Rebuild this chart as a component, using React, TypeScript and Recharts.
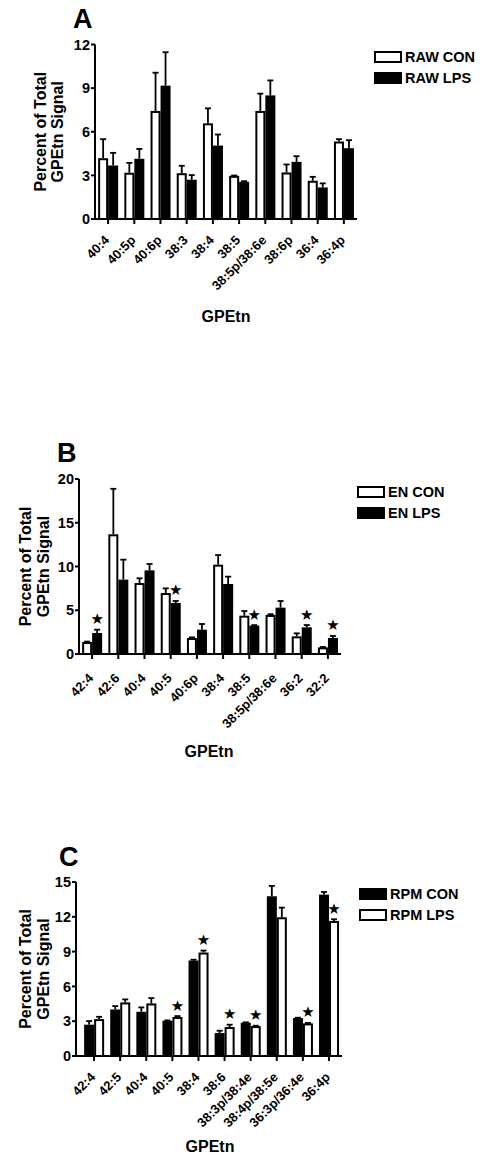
import React from 'react';
import { BarChart, Bar, XAxis, YAxis } from 'recharts';

const FONT = '"Liberation Sans", Arial, sans-serif';

// Panel A - RAW cells
const catsA = ['40:4', '40:5p', '40:6p', '38:3', '38:4', '38:5', '38:5p/38:6e', '38:6p', '36:4', '36:4p'];
const rawCon = [4.18, 3.18, 7.43, 3.15, 6.58, 2.97, 7.43, 3.2, 2.63, 5.33];
const rawConSem = [1.31, 0.68, 2.63, 0.51, 1.03, 0.02, 1.19, 0.55, 0.27, 0.16];
const rawLps = [3.68, 4.14, 9.17, 2.7, 5.05, 2.56, 8.5, 3.93, 2.17, 4.87];
const rawLpsSem = [0.87, 0.68, 2.3, 0.32, 0.76, 0.04, 1.03, 0.39, 0.28, 0.55];

// Panel B - EN
const catsB = ['42:4', '42:6', '40:4', '40:5', '40:6p', '38:4', '38:5', '38:5p/38:6e', '36:2', '32:2'];
const enCon = [1.37, 13.68, 8.11, 6.97, 1.83, 10.21, 4.38, 4.46, 2.02, 0.76];
const enConSem = [0.05, 5.2, 0.54, 0.53, 0.07, 1.1, 0.53, 0.09, 0.34, 0.04];
const enLps = [2.4, 8.5, 9.56, 5.83, 2.78, 8.0, 3.24, 5.3, 3.05, 1.83];
const enLpsSem = [0.38, 2.28, 0.73, 0.23, 0.65, 0.84, 0.06, 0.76, 0.26, 0.23];
const enStar = [true, false, false, true, false, false, true, false, true, true];

// Panel C - RPM
const catsC = ['42:4', '42:5', '40:4', '40:5', '38:4', '38:6', '38:3p/38:4e', '38:4p/38:5e', '36:3p/36:4e', '36:4p'];
const rpmCon = [2.7, 4.01, 3.81, 3.04, 8.23, 1.98, 2.87, 13.77, 3.27, 13.91];
const rpmConSem = [0.31, 0.29, 0.38, 0.03, 0.07, 0.2, 0.03, 0.89, 0.03, 0.23];
const rpmLps = [3.18, 4.62, 4.53, 3.36, 8.92, 2.5, 2.58, 11.96, 2.81, 11.64];
const rpmLpsSem = [0.2, 0.26, 0.46, 0.08, 0.17, 0.2, 0.03, 0.83, 0.04, 0.15];
const rpmStar = [false, false, false, true, true, true, true, false, true, true];

const build = (cats: string[], con: number[], conSem: number[], lps: number[], lpsSem: number[], star?: boolean[]) =>
  cats.map((name, i) => ({
    name,
    con: con[i],
    conSem: conSem[i],
    lps: lps[i],
    lpsSem: lpsSem[i],
    star: star ? star[i] : false,
  }));

const dataA = build(catsA, rawCon, rawConSem, rawLps, rawLpsSem);
const dataB = build(catsB, enCon, enConSem, enLps, enLpsSem, enStar);
const dataC = build(catsC, rpmCon, rpmConSem, rpmLps, rpmLpsSem, rpmStar);

// bar + upward error bar + optional star
const barShape = (valKey: string, semKey: string, white: boolean, withStar: boolean) => (props: any) => {
  const { x, y, width, height, payload } = props;
  const v = payload[valKey];
  const sem = payload[semKey];
  const perUnit = v > 0 ? height / v : 0;
  const errTop = y - sem * perUnit;
  const cx = x + width / 2;
  return (
    <g>
      <line x1={cx} x2={cx} y1={y} y2={errTop} stroke="#000" strokeWidth={1.8} />
      <line x1={cx - 3} x2={cx + 3} y1={errTop} y2={errTop} stroke="#000" strokeWidth={1.8} />
      {white ? (
        <rect x={x + 1} y={y + 1} width={width - 2} height={Math.max(height - 1, 0)} fill="#fff" stroke="#000" strokeWidth={2} />
      ) : (
        <rect x={x} y={y} width={width} height={height} fill="#000" />
      )}
      {withStar && payload.star && (
        <text x={cx} y={errTop - 5.5} textAnchor="middle" fontSize={15} fontFamily="DejaVu Sans" fill="#000">
          ★
        </text>
      )}
    </g>
  );
};

const makeXTick = (dy: number) => (props: any) => {
  const { x, y, payload } = props;
  return (
    <text
      transform={`translate(${x + 2},${y + dy}) rotate(-45)`}
      textAnchor="end"
      fontSize={13}
      fontWeight="bold"
      fontFamily={FONT}
      fill="#000"
    >
      {payload.value}
    </text>
  );
};

const yTitle = (x1: number, x2: number) => (props: any) => {
  const { viewBox } = props;
  const cy = viewBox.y + viewBox.height / 2;
  return (
    <g fontFamily={FONT} fontWeight="bold" fontSize={16} fill="#000">
      <text transform={`translate(${x1},${cy}) rotate(-90)`} textAnchor="middle" dominantBaseline="central">
        Percent of Total
      </text>
      <text transform={`translate(${x2},${cy}) rotate(-90)`} textAnchor="middle" dominantBaseline="central">
        GPEtn Signal
      </text>
    </g>
  );
};

const xTitle = (cx: number, y: number) => () => (
  <text x={cx} y={y} textAnchor="middle" fontFamily={FONT} fontWeight="bold" fontSize={16} fill="#000">
    GPEtn
  </text>
);

function LegendBox({ items, left, top }: { items: { label: string; white: boolean }[]; left: number; top: number }) {
  return (
    <div style={{ position: 'absolute', left, top, fontFamily: FONT, fontWeight: 'bold', fontSize: 14.5 }}>
      {items.map((it) => (
        <div key={it.label} style={{ display: 'flex', alignItems: 'center', height: 20.5 }}>
          <div
            style={{
              width: 28,
              height: 12,
              boxSizing: 'border-box',
              background: it.white ? '#fff' : '#000',
              border: '2px solid #000',
              marginRight: 3,
            }}
          />
          <span>{it.label}</span>
        </div>
      ))}
    </div>
  );
}

const axisLine = { stroke: '#000', strokeWidth: 2 };
const yTick = { fill: '#000', fontSize: 14.5, fontWeight: 'bold', fontFamily: FONT };

interface PanelProps {
  data: any[];
  top: number;
  height: number;
  margin: { top: number; right: number; left: number; bottom: number };
  xAxisHeight: number;
  xPadLeft: number;
  labelDy: number;
  domainMax: number;
  ticks: number[];
  letter: string;
  letterPos: { left: number; top: number };
  legendItems: { label: string; white: boolean }[];
  legendPos: { left: number; top: number };
  conWhite: boolean;
  titleX: [number, number];
  xTitlePos: [number, number];
}

function Panel(p: PanelProps) {
  const XTick = makeXTick(p.labelDy);
  return (
    <div style={{ position: 'absolute', left: 0, top: p.top, width: 488, height: p.height }}>
      <BarChart width={488} height={p.height} data={p.data} margin={p.margin} barCategoryGap="12%" barGap={0}>
        <XAxis
          dataKey="name"
          height={p.xAxisHeight}
          interval={0}
          axisLine={axisLine}
          tickLine={axisLine}
          tickSize={5}
          tickMargin={2}
          tick={<XTick />}
          padding={{ left: p.xPadLeft, right: 0 }}
          label={{ content: xTitle(p.xTitlePos[0], p.xTitlePos[1]) } as any}
        />
        <YAxis
          width={60}
          domain={[0, p.domainMax]}
          ticks={p.ticks}
          interval={0}
          axisLine={axisLine}
          tickLine={axisLine}
          tickSize={4}
          tickMargin={1}
          tick={yTick}
          label={{ content: yTitle(p.titleX[0], p.titleX[1]) } as any}
        />
        <Bar dataKey="con" isAnimationActive={false} shape={barShape('con', 'conSem', p.conWhite, false)} />
        <Bar dataKey="lps" isAnimationActive={false} shape={barShape('lps', 'lpsSem', !p.conWhite, true)} />
      </BarChart>
      <div
        style={{
          position: 'absolute',
          left: p.letterPos.left,
          top: p.letterPos.top,
          fontFamily: FONT,
          fontWeight: 'bold',
          fontSize: 27,
          lineHeight: 1,
        }}
      >
        {p.letter}
      </div>
      <LegendBox items={p.legendItems} left={p.legendPos.left} top={p.legendPos.top} />
    </div>
  );
}

export default function App() {
  return (
    <div style={{ position: 'absolute', left: 0, top: 0, width: 488, height: 1160, background: '#fff' }}>
      <Panel
        data={dataA}
        top={0}
        height={340}
        margin={{ top: 44.5, right: 131, left: 35, bottom: 0 }}
        xAxisHeight={121}
        xPadLeft={0}
        labelDy={15}
        domainMax={12}
        ticks={[0, 3, 6, 9, 12]}
        letter="A"
        letterPos={{ left: 73, top: 6 }}
        legendItems={[
          { label: 'RAW CON', white: true },
          { label: 'RAW LPS', white: false },
        ]}
        legendPos={{ left: 374, top: 47 }}
        conWhite={true}
        titleX={[40, 57]}
        xTitlePos={[226, 322]}
      />
      <Panel
        data={dataB}
        top={380}
        height={400}
        margin={{ top: 99, right: 147, left: 19, bottom: 0 }}
        xAxisHeight={126}
        xPadLeft={0}
        labelDy={18}
        domainMax={20}
        ticks={[0, 5, 10, 15, 20]}
        letter="B"
        letterPos={{ left: 57, top: 60 }}
        legendItems={[
          { label: 'EN CON', white: true },
          { label: 'EN LPS', white: false },
        ]}
        legendPos={{ left: 357, top: 102 }}
        conWhite={true}
        titleX={[25, 43]}
        xTitlePos={[209, 377]}
      />
      <Panel
        data={dataC}
        top={800}
        height={360}
        margin={{ top: 82, right: 146, left: 16, bottom: 0 }}
        xAxisHeight={104}
        xPadLeft={5}
        labelDy={15}
        domainMax={15}
        ticks={[0, 3, 6, 9, 12, 15]}
        letter="C"
        letterPos={{ left: 59, top: 44 }}
        legendItems={[
          { label: 'RPM CON', white: false },
          { label: 'RPM LPS', white: true },
        ]}
        legendPos={{ left: 359, top: 84 }}
        conWhite={false}
        titleX={[25, 43]}
        xTitlePos={[210, 352]}
      />
    </div>
  );
}
